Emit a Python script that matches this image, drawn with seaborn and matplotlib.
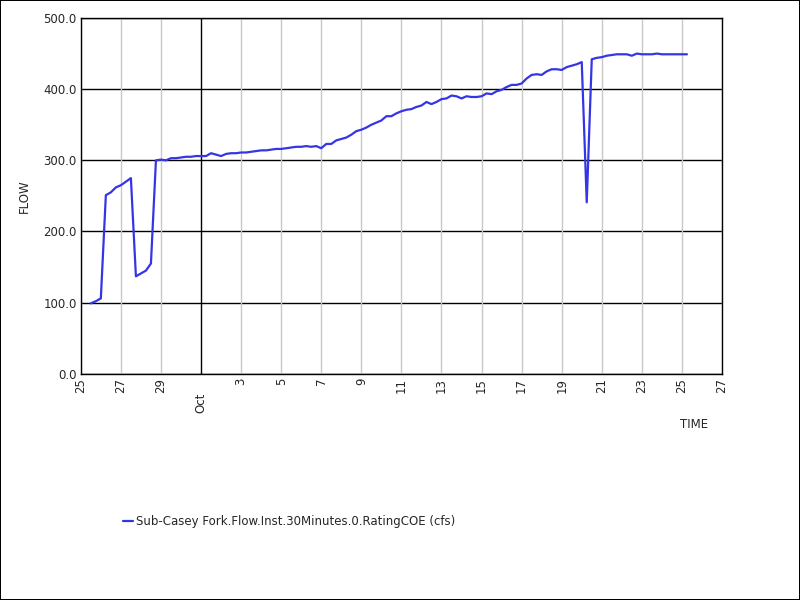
import pandas as pd
import matplotlib
matplotlib.use("Agg")
import matplotlib.pyplot as plt
from matplotlib.transforms import ScaledTranslation
import seaborn as sns

# --- Data (6-hourly samples) ---
start = pd.Timestamp("2023-09-25 12:00")
flow = [
    99, 102, 106, 251, 255, 262, 265, 270, 275, 137, 141, 145, 155,
    300, 301, 300, 303, 303, 304, 305, 305, 306, 306, 306, 310,
    308, 306, 309, 310, 310, 311, 311, 312, 313, 314, 314, 315,
    316, 316, 317, 318, 319, 319, 320, 319, 320, 317, 323, 323,
    328, 330, 332, 336, 341, 343, 346, 350, 353, 356, 362, 362,
    366, 369, 371, 372, 375, 377, 382, 379, 382, 386, 387, 391,
    390, 387, 390, 389, 389, 390, 394, 393, 397, 399, 403, 406,
    406, 408, 415, 420, 421, 420, 425, 428, 428, 427, 431, 433,
    435, 438, 241, 442, 444, 445, 447, 448, 449, 449, 449, 447,
    450, 449, 449, 449, 450, 449, 449, 449, 449, 449, 449,
]
times = pd.date_range(start, periods=len(flow), freq="6h")
series_name = "Sub-Casey Fork.Flow.Inst.30Minutes.0.RatingCOE (cfs)"
df = pd.DataFrame({"TIME": times, "FLOW": flow, "series": series_name})

x_start = pd.Timestamp("2023-09-25")
x_end = pd.Timestamp("2023-10-27")
y_ticks = [0, 100, 200, 300, 400, 500]

# --- Plot ---
sns.set_style("white")
plt.rcParams["font.family"] = ["DejaVu Sans"]
fig = plt.figure(figsize=(8, 6), dpi=100)
fig.patch.set_edgecolor("black")
fig.patch.set_linewidth(1.2)
ax = fig.add_axes([0.101, 0.377, 0.8015, 0.593])

sns.lineplot(data=df, x="TIME", y="FLOW", hue="series", palette=["#3535e6"],
             linewidth=1.6, ax=ax)

ax.set_xlim(x_start, x_end)
ax.set_ylim(0, 500)
ax.set_yticks(y_ticks)
ax.set_yticklabels([f"{v:.1f}" for v in y_ticks], fontsize=8.5)

tick_days = pd.date_range(x_start, x_end, freq="2D")
ax.set_xticks(tick_days)
labels = ["Oct" if d.day == 1 else str(d.day) for d in tick_days]
ax.set_xticklabels(labels, rotation=90, fontsize=8.5, va="top")
ax.tick_params(axis="both", length=0, pad=3)
for lab, d in zip(ax.get_xticklabels(), tick_days):
    if d.day == 1:
        lab.set_transform(lab.get_transform() + ScaledTranslation(0, -0.15, fig.dpi_scale_trans))

# grid: horizontal black, vertical light grey, month boundary black
for v in y_ticks:
    ax.axhline(v, color="black", linewidth=1, zorder=1)
for d in tick_days:
    ax.axvline(d, color="black" if d.day == 1 else "#c8c8c8", linewidth=1, zorder=1)

for s in ax.spines.values():
    s.set_color("black")
    s.set_linewidth(1)

ax.set_ylabel("FLOW", fontsize=8.5, labelpad=9)
ax.set_xlabel("")
fig.text(0.868, 0.293, "TIME", fontsize=8.5, ha="center", va="center")

ax.legend(loc="center left", bbox_to_anchor=(0.050, -0.416), frameon=False,
          fontsize=8.5, handlelength=0.8, handletextpad=0.3)

plt.savefig("out.png", dpi=100)
